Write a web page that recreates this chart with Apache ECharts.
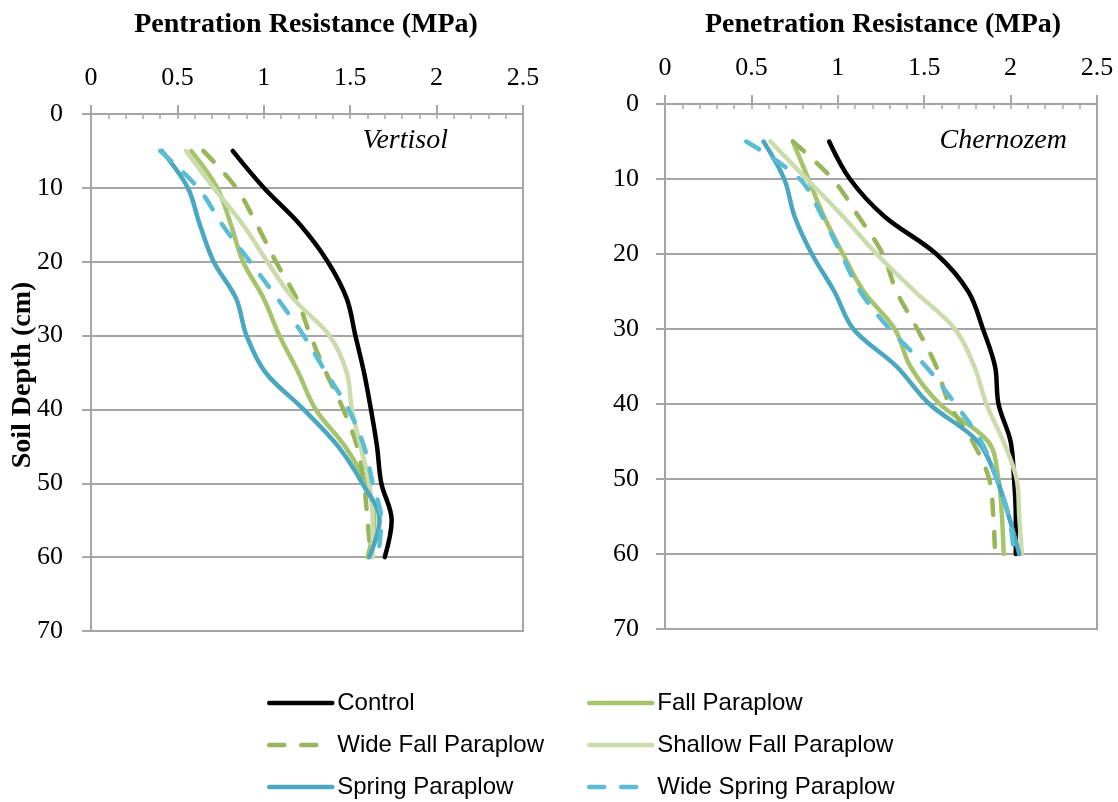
<!DOCTYPE html>
<html>
<head>
<meta charset="utf-8">
<script src="https://cdn.jsdelivr.net/npm/echarts@6/dist/echarts.min.js"></script>
<style>
html,body{margin:0;padding:0;background:#fff;}
#chart{width:1118px;height:802px;}
</style>
</head>
<body>
<div id="chart"></div>
<script>
// ---- data ----
const depths = [5, 10, 15, 20, 25, 30, 35, 40, 45, 50, 55, 60];
const xTicks = ['0', '0.5', '1', '1.5', '2', '2.5'];
const seriesNames = ['Control', 'Fall Paraplow', 'Wide Fall Paraplow', 'Shallow Fall Paraplow', 'Spring Paraplow', 'Wide Spring Paraplow'];

// Vertisol (MPa at each depth)
const vControl     = [0.82, 1.00, 1.21, 1.37, 1.48, 1.53, 1.58, 1.62, 1.655, 1.68, 1.74, 1.70];
const vFall        = [0.58, 0.73, 0.81, 0.88, 1.00, 1.09, 1.20, 1.30, 1.47, 1.59, 1.64, 1.60];
const vWideFall    = [0.65, 0.84, 0.96, 1.07, 1.19, 1.27, 1.36, 1.46, 1.54, 1.58, 1.60, 1.62];
const vShallowFall = [0.55, 0.71, 0.88, 1.02, 1.17, 1.38, 1.48, 1.51, 1.56, 1.61, 1.63, 1.63];
const vSpring      = [0.41, 0.56, 0.63, 0.71, 0.84, 0.90, 1.01, 1.23, 1.43, 1.57, 1.67, 1.61];
const vWideSpring  = [0.40, 0.62, 0.76, 0.92, 1.08, 1.23, 1.36, 1.49, 1.58, 1.63, 1.68, 1.66];

// Chernozem (MPa at each depth)
const cControl     = [0.95, 1.07, 1.27, 1.57, 1.755, 1.84, 1.91, 1.93, 2.00, 2.02, 2.03, 2.03];
const cFall        = [0.74, 0.83, 0.92, 1.03, 1.15, 1.33, 1.42, 1.59, 1.87, 1.93, 1.95, 1.96];
const cWideFall    = [0.74, 0.97, 1.12, 1.26, 1.34, 1.46, 1.57, 1.645, 1.78, 1.876, 1.90, 1.91];
const cShallowFall = [0.61, 0.82, 1.03, 1.225, 1.446, 1.678, 1.79, 1.86, 1.958, 2.035, 2.05, 2.065];
const cSpring      = [0.57, 0.69, 0.75, 0.85, 0.98, 1.09, 1.34, 1.53, 1.81, 1.92, 1.99, 2.05];
const cWideSpring  = [0.47, 0.78, 0.91, 1.02, 1.13, 1.30, 1.51, 1.68, 1.83, 1.92, 1.99, 2.02];

// ---- styles ----
const GRAY = '#a6a6a6';
const SERIF = '"Liberation Serif", "Times New Roman", serif';
const SANS = '"Liberation Sans", Arial, sans-serif';
const styles = {
  'Control':               {color: '#000000', type: 'solid'},
  'Fall Paraplow':         {color: '#a6c46b', type: 'solid'},
  'Wide Fall Paraplow':    {color: '#97b55a', type: [15, 17]},
  'Shallow Fall Paraplow': {color: '#cadcab', type: 'solid'},
  'Spring Paraplow':       {color: '#4aa7c0', type: 'solid'},
  'Wide Spring Paraplow':  {color: '#5bbcd6', type: [15, 17]}
};

function mkSeries(name, vals, idx) {
  const st = styles[name];
  return {
    name: name,
    type: 'line',
    xAxisIndex: idx,
    yAxisIndex: idx,
    data: depths.map((d, i) => [vals[i], d]),
    smooth: 0.35,
    showSymbol: false,
    symbol: 'none',
    lineStyle: {color: st.color, width: 4.5, type: st.type, cap: 'round', join: 'round'},
    itemStyle: {color: st.color},
    emphasis: {disabled: true},
    animation: false
  };
}

const vSets = [vControl, vFall, vWideFall, vShallowFall, vSpring, vWideSpring];
const cSets = [cControl, cFall, cWideFall, cShallowFall, cSpring, cWideSpring];
const series = [];
seriesNames.forEach((n, i) => series.push(mkSeries(n, vSets[i], 0)));
seriesNames.forEach((n, i) => series.push(mkSeries(n, cSets[i], 1)));

function mainX(gridIndex) {
  return {
    type: 'value', gridIndex: gridIndex, position: 'top',
    min: 0, max: 2.5, interval: 0.5,
    axisLine: {show: true, lineStyle: {color: GRAY, width: 2}},
    axisTick: {show: true, inside: false, length: 9, lineStyle: {color: GRAY, width: 2}},
    axisLabel: {show: true, margin: 23, color: '#000', fontFamily: SERIF, fontSize: 26,
      formatter: v => xTicks[Math.round(v / 0.5)]},
    splitLine: {show: false}
  };
}
function minorX(gridIndex) {
  return {
    type: 'value', gridIndex: gridIndex, position: 'top',
    min: 0, max: 2.5, interval: 0.1,
    axisLine: {show: false},
    axisTick: {show: true, inside: true, length: 5, lineStyle: {color: GRAY, width: 1.5}},
    axisLabel: {show: false},
    splitLine: {show: false}
  };
}
function mainY(gridIndex, margin) {
  return {
    type: 'value', gridIndex: gridIndex, inverse: true,
    min: 0, max: 70, interval: 10,
    axisLine: {show: true, lineStyle: {color: GRAY, width: 2}},
    axisTick: {show: true, inside: false, length: 9, lineStyle: {color: GRAY, width: 2}},
    axisLabel: {show: true, margin: margin, color: '#000', fontFamily: SERIF, fontSize: 26},
    splitLine: {show: true, lineStyle: {color: GRAY, width: 2}}
  };
}

function mkLegend(names, left) {
  return {
    data: names, left: left, top: 691,
    orient: 'vertical', padding: 0, itemWidth: 63, itemHeight: 24, itemGap: 18,
    selectedMode: false,
    itemStyle: {opacity: 0},
    lineStyle: {width: 4.5, cap: 'round'},
    textStyle: {fontFamily: SANS, fontSize: 24, color: '#000', lineHeight: 24}
  };
}

const option = {
  backgroundColor: '#ffffff',
  animation: false,
  title: [
    {text: 'Pentration Resistance (MPa)', left: 306, top: 11, textAlign: 'center', padding: 0,
     textStyle: {fontFamily: SERIF, fontWeight: 'bold', fontSize: 28, color: '#000'}},
    {text: 'Penetration Resistance (MPa)', left: 883, top: 11, textAlign: 'center', padding: 0,
     textStyle: {fontFamily: SERIF, fontWeight: 'bold', fontSize: 28, color: '#000'}}
  ],
  grid: [
    {left: 91, top: 114, width: 432, height: 517, show: true, borderColor: GRAY, borderWidth: 2, backgroundColor: 'transparent'},
    {left: 665, top: 104, width: 432, height: 525, show: true, borderColor: GRAY, borderWidth: 2, backgroundColor: 'transparent'}
  ],
  xAxis: [mainX(0), mainX(1), minorX(0), minorX(1)],
  yAxis: [mainY(0, 28), mainY(1, 26)],
  legend: [
    mkLegend(['Control', 'Wide Fall Paraplow', 'Spring Paraplow'], 267),
    mkLegend(['Fall Paraplow', 'Shallow Fall Paraplow', 'Wide Spring Paraplow'], 587)
  ],
  graphic: [
    {type: 'text', x: 23, y: 375, rotation: Math.PI / 2,
     style: {text: 'Soil Depth (cm)', align: 'center', verticalAlign: 'middle',
       font: 'bold 28px ' + SERIF, fill: '#000'}},
    {type: 'text', x: 448, y: 141,
     style: {text: 'Vertisol', align: 'right', verticalAlign: 'middle',
       font: 'italic 28px ' + SERIF, fill: '#000'}},
    {type: 'text', x: 1067, y: 141,
     style: {text: 'Chernozem', align: 'right', verticalAlign: 'middle',
       font: 'italic 28px ' + SERIF, fill: '#000'}}
  ],
  series: series
};

const chart = echarts.init(document.getElementById('chart'), null, {renderer: 'canvas'});
chart.setOption(option);
</script>
</body>
</html>
